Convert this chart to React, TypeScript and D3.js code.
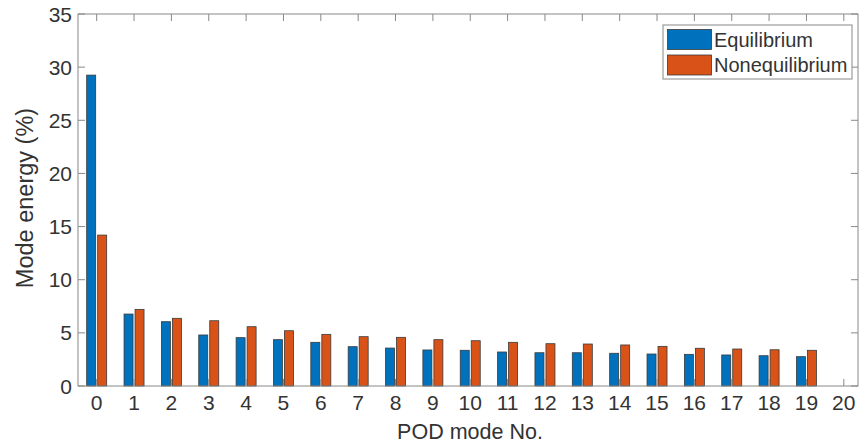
import React, { useEffect, useRef } from "react";
import * as d3 from "d3";

const modes = d3.range(0, 20);
const equilibrium = [29.25, 6.77, 6.05, 4.8, 4.55, 4.36, 4.11, 3.7, 3.57, 3.39, 3.36, 3.2, 3.13, 3.13, 3.08, 3.01, 2.98, 2.92, 2.85, 2.76];
const nonequilibrium = [14.2, 7.21, 6.37, 6.14, 5.58, 5.2, 4.86, 4.64, 4.58, 4.36, 4.26, 4.11, 3.98, 3.95, 3.86, 3.73, 3.55, 3.48, 3.41, 3.36];
const seriesNames = ["Equilibrium", "Nonequilibrium"];
const seriesColors = ["#0072BD", "#D95319"];
const xTicks = d3.range(0, 21);
const yTicks = d3.range(0, 36, 5);

const W = 859, H = 443;
const left = 78, right = 858, top = 14, bottom = 386;
const font = "'Liberation Sans', Arial, sans-serif";
const textColor = "#333";
const axisColor = "#888";

export default function App() {
  const ref = useRef<SVGSVGElement>(null);

  useEffect(() => {
    const svg = d3.select(ref.current);
    svg.selectAll("*").remove();

    const x = d3.scaleLinear().domain([-0.5, 20.38]).range([left, right]);
    const y = d3.scaleLinear().domain([0, 35]).range([bottom, top]);
    const barW = 9;

    const series = [equilibrium, nonequilibrium];
    series.forEach((vals, si) => {
      svg.append("g").selectAll("rect").data(vals).join("rect")
        .attr("x", (d, i) => si === 0 ? x(modes[i]) - 1 - barW : x(modes[i]) + 1)
        .attr("y", d => y(d))
        .attr("width", barW)
        .attr("height", d => y(0) - y(d))
        .attr("fill", seriesColors[si])
        .attr("stroke", "#3a3a3a")
        .attr("stroke-width", 0.8);
    });

    // box
    svg.append("rect")
      .attr("x", left).attr("y", top)
      .attr("width", right - left).attr("height", bottom - top)
      .attr("fill", "none").attr("stroke", axisColor).attr("stroke-width", 1);

    const tl = 7;
    const gx = svg.append("g");
    xTicks.forEach(t => {
      gx.append("line").attr("x1", x(t)).attr("x2", x(t)).attr("y1", bottom).attr("y2", bottom - tl)
        .attr("stroke", axisColor);
      gx.append("line").attr("x1", x(t)).attr("x2", x(t)).attr("y1", top).attr("y2", top + tl)
        .attr("stroke", axisColor);
      gx.append("text").attr("x", x(t)).attr("y", 410)
        .attr("text-anchor", "middle").attr("font-size", 21).attr("font-family", font)
        .attr("fill", textColor).text(t);
    });

    const gy = svg.append("g");
    yTicks.forEach(t => {
      gy.append("line").attr("x1", left).attr("x2", left + tl).attr("y1", y(t)).attr("y2", y(t))
        .attr("stroke", axisColor);
      gy.append("line").attr("x1", right).attr("x2", right - tl).attr("y1", y(t)).attr("y2", y(t))
        .attr("stroke", axisColor);
      gy.append("text").attr("x", 72).attr("y", y(t)).attr("dy", "0.36em")
        .attr("text-anchor", "end").attr("font-size", 21).attr("font-family", font)
        .attr("fill", textColor).text(t);
    });

    svg.append("text").attr("x", 470).attr("y", 439)
      .attr("text-anchor", "middle").attr("font-size", 21.5).attr("font-family", font)
      .attr("fill", textColor).text("POD mode No.");

    svg.append("text").attr("transform", `translate(33,198) rotate(-90)`)
      .attr("text-anchor", "middle").attr("font-size", 23.5).attr("font-family", font)
      .attr("fill", textColor).text("Mode energy (%)");

    // legend
    const lg = svg.append("g");
    lg.append("rect").attr("x", 663).attr("y", 25).attr("width", 189).attr("height", 54)
      .attr("fill", "#fff").attr("stroke", axisColor);
    seriesNames.forEach((name, i) => {
      lg.append("rect").attr("x", 667.5).attr("y", 29.5 + i * 25.5).attr("width", 44).attr("height", 20)
        .attr("fill", seriesColors[i]).attr("stroke", "#3a3a3a").attr("stroke-width", 0.8);
      lg.append("text").attr("x", 714).attr("y", 46.5 + i * 25.5)
        .attr("font-size", 20).attr("font-family", font).attr("fill", textColor).text(name);
    });
  }, []);

  return (
    <div style={{ position: "fixed", left: 0, top: 0, background: "#fff" }}>
      <svg ref={ref} width={W} height={H} style={{ display: "block" }} />
    </div>
  );
}
